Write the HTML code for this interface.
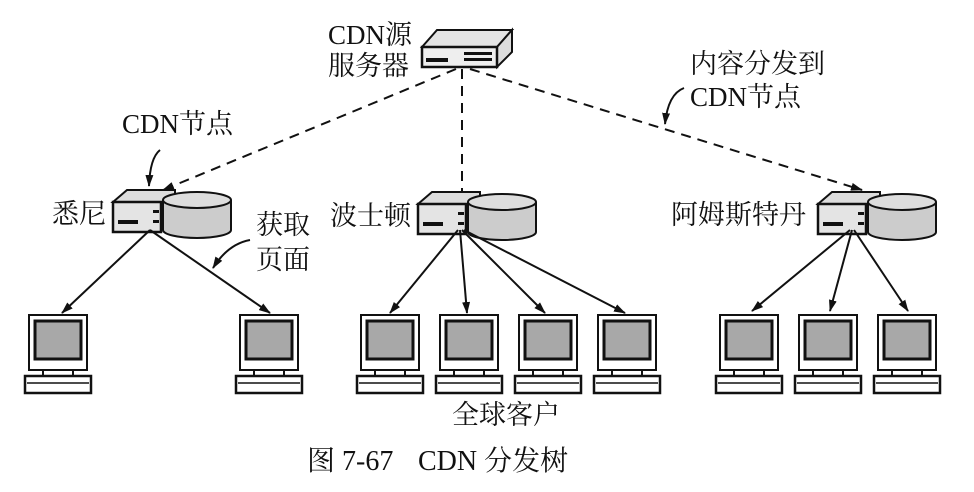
<!DOCTYPE html>
<html><head><meta charset="utf-8"><style>
body{margin:0;background:#fff}
svg{display:block}
text{font-family:"Liberation Serif","Noto Serif CJK SC","Noto Sans CJK SC",serif;fill:#111}
</style></head><body>
<svg width="974" height="492" viewBox="0 0 974 492" xmlns="http://www.w3.org/2000/svg">
<defs>
<marker id="ah" markerWidth="12" markerHeight="8" refX="11" refY="4" orient="auto" markerUnits="userSpaceOnUse">
<path d="M0,0 L12,4 L0,8 Z" fill="#111"/></marker>
<g id="node">
 <path d="M0,12 L14,0 L62,0 L62,12 Z" fill="#ddd" stroke="#111" stroke-width="2"/>
 <rect x="0" y="12" width="48" height="30" fill="#e4e4e4" stroke="#111" stroke-width="2.5"/>
 <rect x="5" y="30" width="20" height="4" fill="#111"/>
 <rect x="40" y="20" width="6" height="3" fill="#111"/><rect x="40" y="30" width="6" height="3" fill="#111"/>
 <path d="M50,10 L50,40 A34,8 0 0 0 118,40 L118,10" fill="#ccc" stroke="#111" stroke-width="2"/>
 <ellipse cx="84" cy="10" rx="34" ry="8" fill="#ddd" stroke="#111" stroke-width="2"/>
</g>
<g id="pc">
 <rect x="4" y="0" width="58" height="55" fill="#fff" stroke="#111" stroke-width="2"/>
 <rect x="10" y="6" width="46" height="38" fill="#a8a8a8" stroke="#111" stroke-width="3"/>
 <rect x="18" y="55" width="30" height="6" fill="#fff" stroke="#111" stroke-width="2"/>
 <rect x="0" y="61" width="66" height="17" fill="#fff" stroke="#111" stroke-width="2.5"/>
 <line x1="2" y1="68" x2="64" y2="68" stroke="#111" stroke-width="1.5"/>
</g>
</defs>
<!-- source server -->
<path d="M422,47 L437,30 L512,30 L497,47 Z" fill="#e4e4e4" stroke="#111" stroke-width="2"/>
<path d="M497,47 L512,30 L512,52 L497,67 Z" fill="#ddd" stroke="#111" stroke-width="2"/>
<rect x="422" y="47" width="75" height="20" fill="#eee" stroke="#111" stroke-width="2.5"/>
<rect x="426" y="58" width="22" height="4" fill="#111"/>
<rect x="464" y="52" width="28" height="3" fill="#111"/><rect x="464" y="58" width="28" height="3" fill="#111"/>
<!-- dashed -->
<g stroke="#111" stroke-width="2" stroke-dasharray="10,7" fill="none">
<line x1="456" y1="69" x2="163" y2="190" marker-end="url(#ah)"/>
<line x1="462" y1="69" x2="462" y2="204" marker-end="url(#ah)"/>
<line x1="470" y1="69" x2="862" y2="190" marker-end="url(#ah)"/>
</g>
<use href="#node" x="113" y="190"/>
<use href="#node" x="418" y="192"/>
<use href="#node" x="818" y="192"/>
<!-- solid arrows -->
<g stroke="#111" stroke-width="2" fill="none">
<line x1="150" y1="230" x2="62" y2="313" marker-end="url(#ah)"/>
<line x1="150" y1="230" x2="270" y2="313" marker-end="url(#ah)"/>
<line x1="458" y1="230" x2="390" y2="313" marker-end="url(#ah)"/>
<line x1="460" y1="230" x2="467" y2="313" marker-end="url(#ah)"/>
<line x1="462" y1="230" x2="545" y2="313" marker-end="url(#ah)"/>
<line x1="464" y1="230" x2="625" y2="313" marker-end="url(#ah)"/>
<line x1="850" y1="230" x2="752" y2="311" marker-end="url(#ah)"/>
<line x1="852" y1="230" x2="830" y2="311" marker-end="url(#ah)"/>
<line x1="854" y1="230" x2="908" y2="311" marker-end="url(#ah)"/>
<!-- callout curves -->
<path d="M160,150 Q150,158 149,186" marker-end="url(#ah)"/>
<path d="M250,240 Q228,244 213,268" marker-end="url(#ah)"/>
<path d="M684,88 Q668,94 665,124" marker-end="url(#ah)"/>
</g>
<use href="#pc" x="25" y="315"/><use href="#pc" x="236" y="315"/>
<use href="#pc" x="357" y="315"/><use href="#pc" x="436" y="315"/><use href="#pc" x="515" y="315"/><use href="#pc" x="594" y="315"/>
<use href="#pc" x="716" y="315"/><use href="#pc" x="795" y="315"/><use href="#pc" x="874" y="315"/>
<!-- labels -->
<g font-size="27">
<text x="328" y="44">CDN源</text>
<text x="328" y="75">服务器</text>
<text x="690" y="73">内容分发到</text>
<text x="690" y="106">CDN节点</text>
<text x="122" y="133">CDN节点</text>
<text x="52" y="223">悉尼</text>
<text x="330" y="225">波士顿</text>
<text x="671" y="224">阿姆斯特丹</text>
<text x="256" y="234">获取</text>
<text x="256" y="269">页面</text>
<text x="452" y="424">全球客户</text>
</g>
<text x="307" y="470" font-size="28">图 7-67</text>
<text x="418" y="470" font-size="28">CDN 分发树</text>
</svg>
</body></html>
